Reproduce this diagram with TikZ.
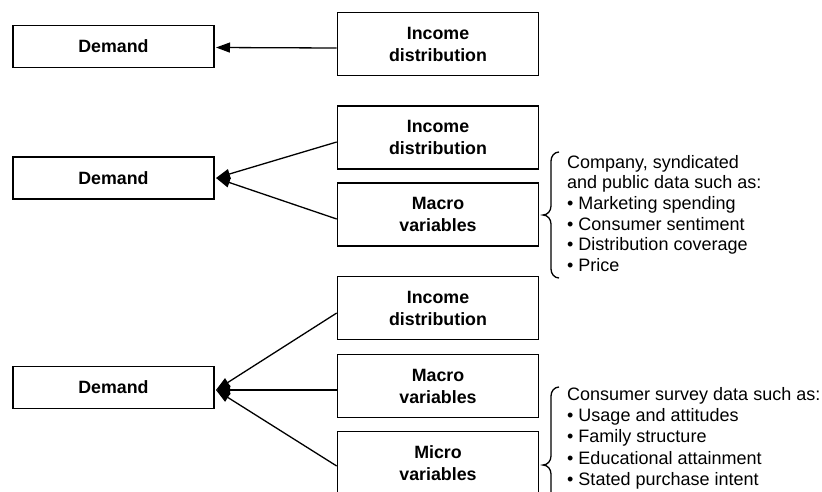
\documentclass[tikz,border=0pt]{standalone}
\usepackage{fontspec}
\setmainfont{Liberation Sans}
\usetikzlibrary{arrows.meta}
\begin{document}
\begin{tikzpicture}[x=1pt,y=-1pt,
  box/.style={draw,line width=1.6pt,rectangle,minimum width=201pt,inner sep=0pt,
    align=center,font=\fontsize{17.8}{22}\selectfont\bfseries},
  dembox/.style={box,minimum height=42pt},
  varbox/.style={box,minimum height=63pt},
  conn/.style={line width=1.3pt,-{Triangle[length=14pt,width=10pt]}},
  brace/.style={line width=1.3pt},
  notes/.style={anchor=north west,inner sep=0pt,align=left}]
\path[use as bounding box,clip] (0,0) rectangle (822,491);
% group 1
\node[dembox] (dem1) at (113.5,46.5) {Demand};
\node[varbox] (inc1) at (438,44) {Income\\distribution};
\coordinate (t1) at (216,47.5);
\draw[conn] ([yshift=-4pt]inc1.west) -- (t1);
% group 2
\node[dembox] (dem2) at (113.5,178) {Demand};
\node[varbox] (inc2) at (438,137.5) {Income\\distribution};
\node[varbox] (mac2) at (438,214.5) {Macro\\variables};
\coordinate (t2) at (216,178);
\draw[conn] ([yshift=-4.5pt]inc2.west) -- (t2);
\draw[conn] ([yshift=-4.5pt]mac2.west) -- (t2);
% group 3
\node[dembox] (dem3) at (113.5,387.5) {Demand};
\node[varbox] (inc3) at (438,308) {Income\\distribution};
\node[varbox] (mac3) at (438,386) {Macro\\variables};
\node[varbox] (mic3) at (438,463) {Micro\\variables};
\coordinate (t3) at (216,390);
\draw[conn] ([yshift=-5pt]inc3.west) -- (t3);
\draw[conn] ([yshift=-4pt]mac3.west) -- (t3);
\draw[conn] ([yshift=-3pt]mic3.west) -- (t3);
% brace 1
\draw[brace] (559,152) to[out=180,in=90] (551,161) -- (551,206)
  to[out=-90,in=0] (543,215) to[out=0,in=90] (551,224) -- (551,269)
  to[out=-90,in=180] (559,278);
\node[notes,font=\fontsize{18}{20.6}\selectfont] (n1) at (567,155)
  {Company, syndicated\\and public data such as:\\• Marketing spending\\• Consumer sentiment\\• Distribution coverage\\• Price};
% brace 2
\draw[brace] (559,387) to[out=180,in=90] (551,396) -- (551,456)
  to[out=-90,in=0] (543,465) to[out=0,in=90] (551,474) -- (551,534)
  to[out=-90,in=180] (559,543);
\node[notes,font=\fontsize{18}{21.3}\selectfont] (n2) at (567,387)
  {Consumer survey data such as:\\• Usage and attitudes\\• Family structure\\• Educational attainment\\• Stated purchase intent};
\end{tikzpicture}
\end{document}
